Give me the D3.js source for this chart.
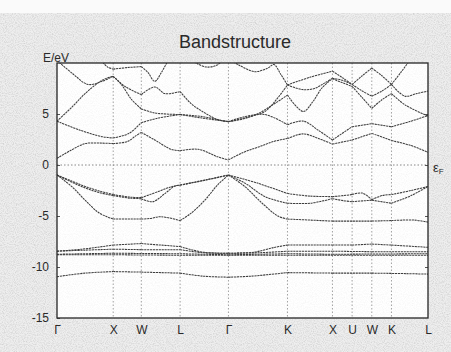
<!DOCTYPE html>
<html>
<head>
<meta charset="utf-8">
<script src="https://cdn.jsdelivr.net/npm/d3@7"></script>
<style>
  html, body { margin: 0; padding: 0; background: #fff; }
  svg { display: block; }
  text { font-family: "Liberation Sans", Arial, sans-serif; fill: #2a2a2a; }
</style>
</head>
<body>
<script>
// High-symmetry points along the k-path (path length units) and their labels
const kPoints = [0, 1, 1.5, 2.19, 3.05, 4.1, 4.9, 5.25, 5.6, 5.95, 6.6];
const kLabels = ["Γ", "X", "W", "L", "Γ", "K", "X", "U", "W", "K", "L"];
const energyTicks = [5, 0, -5, -10, -15];
const energyDomain = [-15, 10];

// Band energies in eV as [k, E] pairs
const bandS = [[0,-10.95],[0.5,-10.6],[1,-10.45],[1.5,-10.5],[2.19,-10.6],[2.6,-10.9],[3.05,-11.0],[3.45,-10.9],[4.1,-10.55],[4.9,-10.6],[5.6,-10.6],[6.2,-10.65],[6.6,-10.7]];
const bandD1 = [[0,-8.45],[0.45,-8.25],[1,-7.85],[1.5,-7.7],[2.19,-8.0],[2.6,-8.55],[3.05,-8.65],[3.5,-8.55],[3.85,-8.1],[4.1,-7.85],[4.9,-7.85],[5.25,-7.85],[5.6,-7.75],[5.95,-7.85],[6.6,-8.07]];
const bandD2 = [[0,-8.45],[0.5,-8.35],[1,-8.25],[1.5,-8.3],[2.19,-8.3],[2.6,-8.6],[3.05,-8.65],[3.6,-8.6],[4.1,-8.45],[4.9,-8.45],[5.6,-8.5],[6.6,-8.5]];
const bandD3 = [[0,-8.75],[1,-8.65],[2.19,-8.7],[3.05,-8.8],[4.1,-8.7],[4.9,-8.75],[6.6,-8.7]];
const bandD4 = [[0,-8.8],[1,-8.8],[2.19,-8.85],[3.05,-8.85],[4.1,-8.85],[6.6,-8.85]];
const bandV1 = [[0,-0.98],[0.25,-1.55],[0.5,-2.1],[0.75,-2.55],[1,-2.9],[1.3,-3.15],[1.5,-3.2],[1.8,-2.6],[2.03,-2.15],[2.19,-1.96],[2.65,-1.45],[3.05,-0.98],[3.58,-1.8],[4.1,-2.8],[4.5,-3.05],[4.9,-3.1],[5.1,-3.0],[5.25,-2.9],[5.43,-2.75],[5.6,-3.4],[5.78,-3.0],[5.95,-2.9],[6.3,-2.5],[6.6,-2.1]];
const bandV2 = [[0,-0.98],[0.25,-1.65],[0.5,-2.25],[0.75,-2.7],[1,-3.0],[1.3,-3.25],[1.5,-3.3],[1.7,-3.6],[1.92,-2.8],[2.1,-2.05],[2.19,-1.98],[2.65,-1.48],[3.05,-0.98],[3.35,-1.8],[3.7,-3.1],[4.1,-3.75],[4.5,-3.75],[4.9,-3.3],[5.1,-3.5],[5.25,-3.6],[5.6,-3.45],[5.95,-3.75],[6.3,-3.0],[6.6,-2.1]];
const bandV3 = [[0,-0.98],[0.27,-2.15],[0.5,-3.45],[0.75,-4.7],[1,-5.3],[1.5,-5.3],[1.65,-5.25],[1.85,-5.07],[2.19,-5.45],[2.38,-4.75],[2.63,-3.45],[2.85,-2.0],[3.05,-0.98],[3.35,-2.15],[3.65,-3.75],[3.93,-5.0],[4.1,-5.3],[4.9,-5.5],[5.6,-5.5],[5.95,-5.45],[6.35,-5.4],[6.6,-5.6]];
const bandC1 = [[0,0.65],[0.25,1.45],[0.5,2.1],[0.75,2.15],[1,2.1],[1.25,2.3],[1.4,2.85],[1.5,3.2],[1.74,2.45],[2.03,1.54],[2.19,1.4],[2.51,1.54],[2.86,0.8],[3.05,0.5],[3.3,1.2],[3.6,1.8],[3.85,2.3],[4.1,2.6],[4.38,3.05],[4.65,2.6],[4.9,2.05],[5.25,2.45],[5.6,3.1],[5.95,2.4],[6.3,1.9],[6.6,1.25]];
const bandC2 = [[0,4.3],[0.39,3.45],[0.8,2.78],[1,2.65],[1.28,3.1],[1.5,4.15],[1.8,4.6],[2.19,4.95],[2.58,4.6],[3.05,4.25],[3.35,4.75],[3.7,4.95],[4.1,3.95],[4.38,4.3],[4.65,3.4],[4.9,2.45],[5.25,3.75],[5.6,4.05],[5.95,3.75],[6.3,4.3],[6.6,4.85]];
const bandC3 = [[0,4.3],[0.27,5.7],[0.5,7.0],[0.8,8.3],[1,8.7],[1.15,7.85],[1.33,6.4],[1.5,5.5],[1.74,5.1],[2.19,4.95],[2.58,4.75],[2.85,4.45],[3.05,4.25]];
const bandU1 = [[0,10.25],[0.27,9.0],[0.55,7.9],[0.8,8.2],[1,8.7],[1.21,7.7],[1.5,6.9],[1.74,7.65],[1.92,7.0],[2.19,7.2],[2.38,6.05],[2.6,5.2],[2.86,4.45],[3.05,4.25]];
const bandU2 = [[0.78,10.3],[0.9,9.6],[1,9.4],[1.25,9.55],[1.5,9.65],[1.62,9.05],[1.74,8.2],[1.86,9.1],[1.98,10.3]];
const bandU3 = [[2.4,10.3],[2.49,9.95],[2.67,9.6],[2.85,9.8],[2.95,10.3]];
const bandU4 = [[3.05,10.4],[3.22,9.85],[3.52,9.15],[3.75,9.5],[3.86,9.85],[3.98,8.9],[4.1,7.85],[4.36,7.4],[4.58,7.5],[4.75,8.0],[4.9,8.5],[5.08,8.3],[5.25,7.9],[5.43,8.75],[5.6,9.5],[5.78,8.75],[5.95,7.9],[6.19,6.75],[6.4,7.0],[6.6,7.25]];
const bandU5 = [[3.05,4.25],[3.4,4.7],[3.7,5.25],[3.93,6.6],[4.1,7.85],[4.5,8.6],[4.9,9.2],[5.08,8.55],[5.25,7.9],[5.43,7.25],[5.6,6.75],[5.78,7.25],[5.95,7.9],[6.12,9.1],[6.28,10.3]];
const bandU6 = [[3.05,4.25],[3.3,4.5],[3.58,5.05],[3.88,6.05],[4.1,6.85],[4.38,5.25],[4.55,6.2],[4.72,7.6],[4.9,8.45],[5.25,7.7],[5.43,6.6],[5.6,5.55],[5.78,6.4],[5.95,7.0],[6.19,5.9],[6.6,4.8]];

const bands = [bandS, bandD1, bandD2, bandD3, bandD4, bandV1, bandV2, bandV3,
               bandC1, bandC2, bandC3, bandU1, bandU2, bandU3, bandU4, bandU5, bandU6];

const W = 451, H = 352;
const plot = { left: 57, right: 428, top: 63, bottom: 318 };

const x = d3.scaleLinear().domain([kPoints[0], kPoints[kPoints.length - 1]]).range([plot.left, plot.right]);
const y = d3.scaleLinear().domain(energyDomain).range([plot.bottom, plot.top]);

const svg = d3.select("body").append("svg").attr("width", W).attr("height", H);
const defs = svg.append("defs");

// paper grain
const grain = defs.append("filter").attr("id", "grain")
  .attr("x", 0).attr("y", 0).attr("width", "100%").attr("height", "100%");
grain.append("feTurbulence").attr("type", "fractalNoise")
  .attr("baseFrequency", 0.9).attr("numOctaves", 2).attr("seed", 7).attr("result", "n");
grain.append("feColorMatrix").attr("in", "n").attr("type", "matrix")
  .attr("values", "0 0 0 0 0.55  0 0 0 0 0.55  0 0 0 0 0.55  1.4 0 0 0 -0.55");

defs.append("clipPath").attr("id", "plotClip").append("rect")
  .attr("x", plot.left).attr("y", plot.top)
  .attr("width", plot.right - plot.left).attr("height", plot.bottom - plot.top);

svg.append("rect").attr("width", W).attr("height", H).attr("fill", "#fafafa");
svg.append("rect").attr("y", 13).attr("width", W).attr("height", H - 13).attr("fill", "#eeeeee");
svg.append("rect").attr("y", 13).attr("width", W).attr("height", H - 13).attr("filter", "url(#grain)");

// plot background
svg.append("rect")
  .attr("x", plot.left).attr("y", plot.top)
  .attr("width", plot.right - plot.left).attr("height", plot.bottom - plot.top)
  .attr("fill", "#ffffff");
svg.append("g").attr("clip-path", "url(#plotClip)").append("rect")
  .attr("x", plot.left).attr("y", plot.top)
  .attr("width", plot.right - plot.left).attr("height", plot.bottom - plot.top)
  .attr("filter", "url(#grain)").attr("opacity", 0.25);

// vertical guide lines at the symmetry points
svg.append("g").selectAll("line")
  .data(kPoints.slice(1, -1))
  .join("line")
  .attr("x1", d => x(d)).attr("x2", d => x(d))
  .attr("y1", plot.top).attr("y2", plot.bottom)
  .attr("stroke", "#8a8a8a").attr("stroke-width", 0.8)
  .attr("stroke-dasharray", "1.5,2");

// Fermi level
svg.append("line")
  .attr("x1", plot.left).attr("x2", plot.right)
  .attr("y1", y(0)).attr("y2", y(0))
  .attr("stroke", "#7a7a7a").attr("stroke-width", 0.9)
  .attr("stroke-dasharray", "1.5,2");

// split each band at the symmetry points so kinks stay sharp there
function segments(band) {
  const segs = [];
  let cur = [band[0]];
  for (let i = 1; i < band.length; i++) {
    cur.push(band[i]);
    const atSym = kPoints.some(k => Math.abs(k - band[i][0]) < 1e-6);
    if (atSym && i < band.length - 1) { segs.push(cur); cur = [band[i]]; }
  }
  segs.push(cur);
  return segs;
}

const line = d3.line()
  .x(d => x(d[0])).y(d => y(d[1]))
  .curve(d3.curveCatmullRom.alpha(0.5));

const bandG = svg.append("g").attr("clip-path", "url(#plotClip)");
bands.forEach(band => {
  bandG.selectAll(null)
    .data(segments(band))
    .join("path")
    .attr("d", line)
    .attr("fill", "none")
    .attr("stroke", "#3d3d3d")
    .attr("stroke-width", 1.05)
    .attr("stroke-dasharray", "2.2,0.7");
});

// axes
const yAxis = d3.axisLeft(y).tickValues(energyTicks).tickFormat(d => String(d))
  .tickSizeInner(-3).tickSizeOuter(0).tickPadding(8);
const gy = svg.append("g").attr("transform", `translate(${plot.left},0)`).call(yAxis);
gy.select(".domain").remove();
gy.selectAll(".tick line").attr("stroke", "#555");
gy.selectAll("text").attr("font-size", 12).style("fill", "#2a2a2a");

const yAxisR = d3.axisRight(y).tickValues(energyTicks.slice(0, 4)).tickFormat("")
  .tickSizeInner(-3).tickSizeOuter(0);
const gyr = svg.append("g").attr("transform", `translate(${plot.right},0)`).call(yAxisR);
gyr.select(".domain").remove();
gyr.selectAll(".tick line").attr("stroke", "#555");

const xAxis = d3.axisBottom(x).tickValues(kPoints).tickFormat((d, i) => kLabels[i])
  .tickSize(0).tickPadding(7);
const gx = svg.append("g").attr("transform", `translate(0,${plot.bottom})`).call(xAxis);
gx.select(".domain").remove();
gx.selectAll("text").attr("font-size", 12).style("fill", "#2a2a2a");

// frame
svg.append("rect")
  .attr("x", plot.left).attr("y", plot.top)
  .attr("width", plot.right - plot.left).attr("height", plot.bottom - plot.top)
  .attr("fill", "none").attr("stroke", "#262626").attr("stroke-width", 1.3);

// titles
svg.append("text").attr("x", 235).attr("y", 48).attr("text-anchor", "middle")
  .attr("font-size", 18).text("Bandstructure");
svg.append("text").attr("x", 43).attr("y", 62).attr("font-size", 12).text("E/eV");

const ef = svg.append("text").attr("x", 433).attr("y", 172).attr("font-size", 13);
ef.append("tspan").text("ε");
ef.append("tspan").attr("font-size", 8).attr("dy", 2).text("F");
</script>
</body>
</html>
